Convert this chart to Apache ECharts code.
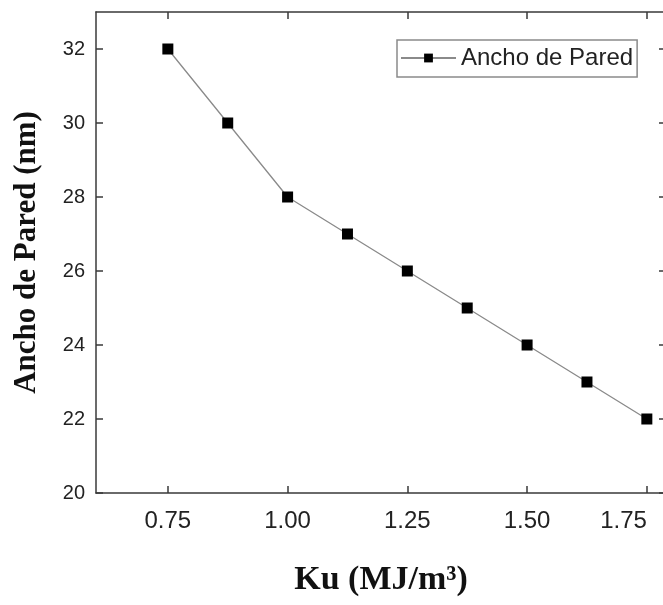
<!DOCTYPE html>
<html>
<head>
<meta charset="utf-8">
<script src="https://cdn.jsdelivr.net/npm/echarts@6/dist/echarts.min.js"></script>
<style>
  html, body { margin: 0; padding: 0; background: #fff; }
  #chart { width: 663px; height: 605px; }
</style>
</head>
<body>
<div id="chart"></div>
<script>
// datos de la curva
var ku = [0.75, 0.875, 1.0, 1.125, 1.25, 1.375, 1.5, 1.625, 1.75];
var ancho = [32, 30, 28, 27, 26, 25, 24, 23, 22];
var xTicks = [0.75, 1.0, 1.25, 1.5, 1.75];
var yTicks = [20, 22, 24, 26, 28, 30, 32];

var myChart = echarts.init(document.getElementById('chart'));

var axisCol = '#3a3a3a';
var tickStyle = { show: true, inside: true, length: 7, lineStyle: { color: axisCol, width: 1.5 } };

var option = {
    backgroundColor: '#fff',
    animation: false,
    grid: { left: 96, top: 12, right: -3, bottom: 112, outerBoundsMode: 'none', containLabel: false },
    legend: {
        data: ['Ancho de Pared'],
        left: 397,
        top: 40,
        padding: [6, 4, 7, 3],
        borderColor: '#8a8a8a',
        borderWidth: 1.5,
        itemWidth: 55,
        itemHeight: 11,
        textStyle: { fontFamily: 'Liberation Sans', fontSize: 24, color: '#222' }
    },
    xAxis: [{
        type: 'value',
        min: 0.6,
        max: 1.79,
        name: 'Ku (MJ/m\u00b3)',
        nameLocation: 'middle',
        nameGap: 70,
        nameTextStyle: { fontFamily: 'Liberation Serif', fontWeight: 'bold', fontSize: 34, color: '#111' },
        axisLine: { show: true, lineStyle: { color: axisCol, width: 1.5 } },
        axisTick: Object.assign({ customValues: xTicks }, tickStyle),
        axisLabel: {
            customValues: xTicks,
            margin: 16,
            alignMaxLabel: 'right',
            fontFamily: 'Liberation Sans',
            fontSize: 24,
            color: '#222',
            formatter: function (v) { return v.toFixed(2); }
        },
        splitLine: { show: false }
    }, {
        type: 'value',
        position: 'top',
        min: 0.6,
        max: 1.79,
        axisLine: { show: true, lineStyle: { color: axisCol, width: 1.5 } },
        axisTick: Object.assign({ customValues: xTicks }, tickStyle),
        axisLabel: { show: false },
        splitLine: { show: false }
    }],
    yAxis: [{
        type: 'value',
        min: 20,
        max: 33,
        name: 'Ancho de Pared (nm)',
        nameLocation: 'middle',
        nameGap: 54,
        nameTextStyle: { fontFamily: 'Liberation Serif', fontWeight: 'bold', fontSize: 31, color: '#111' },
        axisLine: { show: true, lineStyle: { color: axisCol, width: 1.5 } },
        axisTick: Object.assign({ customValues: yTicks }, tickStyle),
        axisLabel: {
            customValues: yTicks,
            margin: 11,
            fontFamily: 'Liberation Sans',
            fontSize: 20,
            color: '#222'
        },
        splitLine: { show: false }
    }, {
        type: 'value',
        position: 'right',
        min: 20,
        max: 33,
        axisLine: { show: true, lineStyle: { color: axisCol, width: 1.5 } },
        axisTick: Object.assign({ customValues: yTicks }, tickStyle),
        axisLabel: { show: false },
        splitLine: { show: false }
    }],
    series: [{
        name: 'Ancho de Pared',
        type: 'line',
        xAxisIndex: 0,
        yAxisIndex: 0,
        data: ku.map(function (x, i) { return [x, ancho[i]]; }),
        symbol: 'rect',
        symbolSize: 11,
        itemStyle: { color: '#000' },
        lineStyle: { color: '#8a8a8a', width: 1.3 }
    }]
};

myChart.setOption(option);
</script>
</body>
</html>
